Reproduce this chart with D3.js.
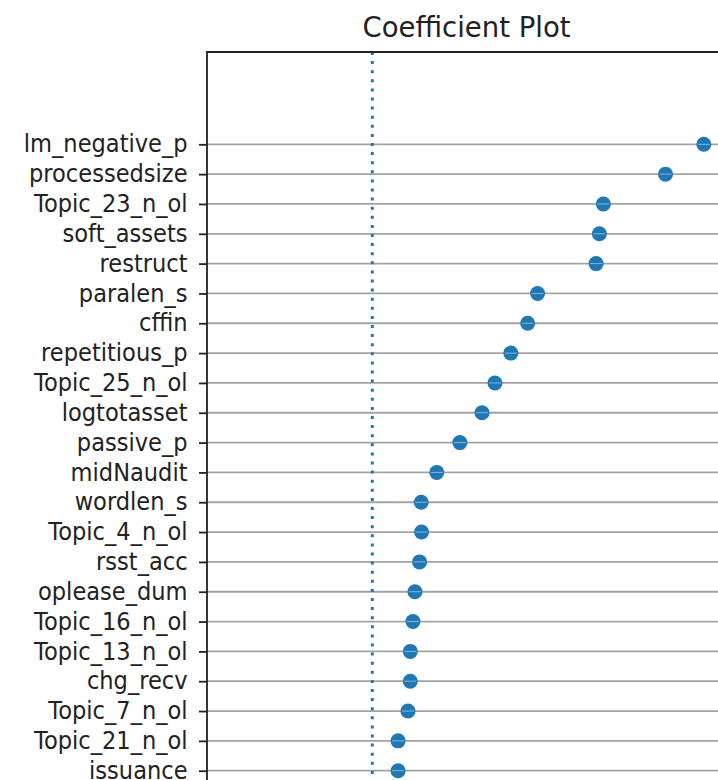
<!DOCTYPE html>
<html>
<head>
<meta charset="utf-8">
<script src="https://cdn.jsdelivr.net/npm/d3@7"></script>
<style>
    body { margin: 0; background: #fff; }
    text { font-family: "DejaVu Sans", sans-serif; fill: #222; }
</style>
</head>
<body>
<div id="my_dataviz"></div>
<script>
// variables, top to bottom as in the plot
var variables = ["lm_negative_p", "processedsize", "Topic_23_n_ol", "soft_assets", "restruct",
    "paralen_s", "cffin", "repetitious_p", "Topic_25_n_ol", "logtotasset", "passive_p",
    "midNaudit", "wordlen_s", "Topic_4_n_ol", "rsst_acc", "oplease_dum", "Topic_16_n_ol",
    "Topic_13_n_ol", "chg_recv", "Topic_7_n_ol", "Topic_21_n_ol", "issuance"];

// coefficient estimates
var coefs = [1.003, 0.887, 0.699, 0.687, 0.677,
    0.500, 0.470, 0.419, 0.371, 0.332, 0.265,
    0.195, 0.148, 0.149, 0.143, 0.129, 0.123,
    0.115, 0.115, 0.108, 0.078, 0.078];

var title = "Coefficient Plot";

var data = variables.map(function(v, i) { return { name: v, coef: coefs[i] }; });

// set the dimensions and margins of the graph
var width = 718, height = 780;
var plot = { left: 207, top: 52, right: 726, bottom: 900 };

var svg = d3.select("#my_dataviz")
    .append("svg")
    .attr("width", width)
    .attr("height", height);

// X scale (no tick labels visible in the crop)
var x = d3.scaleLinear()
    .domain([-0.5, 1.07])
    .range([plot.left, plot.right]);

// Y scale: one row per variable
var y = d3.scalePoint()
    .domain(variables)
    .range([144.3, 770.7]);

// horizontal guide lines
svg.append("g")
    .selectAll("line")
    .data(data)
    .enter()
    .append("line")
    .attr("x1", plot.left)
    .attr("x2", plot.right)
    .attr("y1", function(d) { return y(d.name); })
    .attr("y2", function(d) { return y(d.name); })
    .attr("stroke", "#a3a3a3")
    .attr("stroke-width", 1.8);

// zero line
svg.append("line")
    .attr("x1", x(0))
    .attr("x2", x(0))
    .attr("y1", plot.top)
    .attr("y2", plot.bottom)
    .attr("stroke", "#1f77b4")
    .attr("stroke-width", 3)
    .attr("stroke-dasharray", "3,6.1");

// the points
var pts = svg.append("g");
pts.selectAll("circle")
    .data(data)
    .enter()
    .append("circle")
    .attr("cx", function(d) { return x(d.coef); })
    .attr("cy", function(d) { return y(d.name); })
    .attr("r", 7.5)
    .attr("fill", "#1f77b4");

// thin light streak through each dot (guide line shows through)
pts.selectAll("line")
    .data(data)
    .enter()
    .append("line")
    .attr("x1", function(d) { return x(d.coef) - 6; })
    .attr("x2", function(d) { return x(d.coef) + 6; })
    .attr("y1", function(d) { return y(d.name); })
    .attr("y2", function(d) { return y(d.name); })
    .attr("stroke", "#cfe0ef")
    .attr("stroke-opacity", 0.6)
    .attr("stroke-width", 1);

// Y axis
var yAxis = svg.append("g")
    .attr("transform", "translate(" + plot.left + ",0)")
    .call(d3.axisLeft(y).tickSize(8).tickPadding(12.7));
yAxis.select(".domain").remove();
yAxis.selectAll(".tick line").attr("stroke", "#222").attr("stroke-width", 1.8);
// labels in the picture are a bit taller than wide
yAxis.selectAll(".tick text")
    .attr("font-size", "24px")
    .attr("font-family", "DejaVu Sans")
    .attr("fill", "#222")
    .attr("transform", "scale(0.94,1)");

// spines
svg.append("path")
    .attr("d", "M" + plot.left + "," + plot.bottom + "V" + plot.top + "H" + plot.right)
    .attr("fill", "none")
    .attr("stroke", "#222")
    .attr("stroke-width", 1.8);

// title
svg.append("text")
    .attr("x", (plot.left + plot.right) / 2)
    .attr("y", 37)
    .attr("text-anchor", "middle")
    .attr("font-size", "27.5px")
    .text(title);
</script>
</body>
</html>
